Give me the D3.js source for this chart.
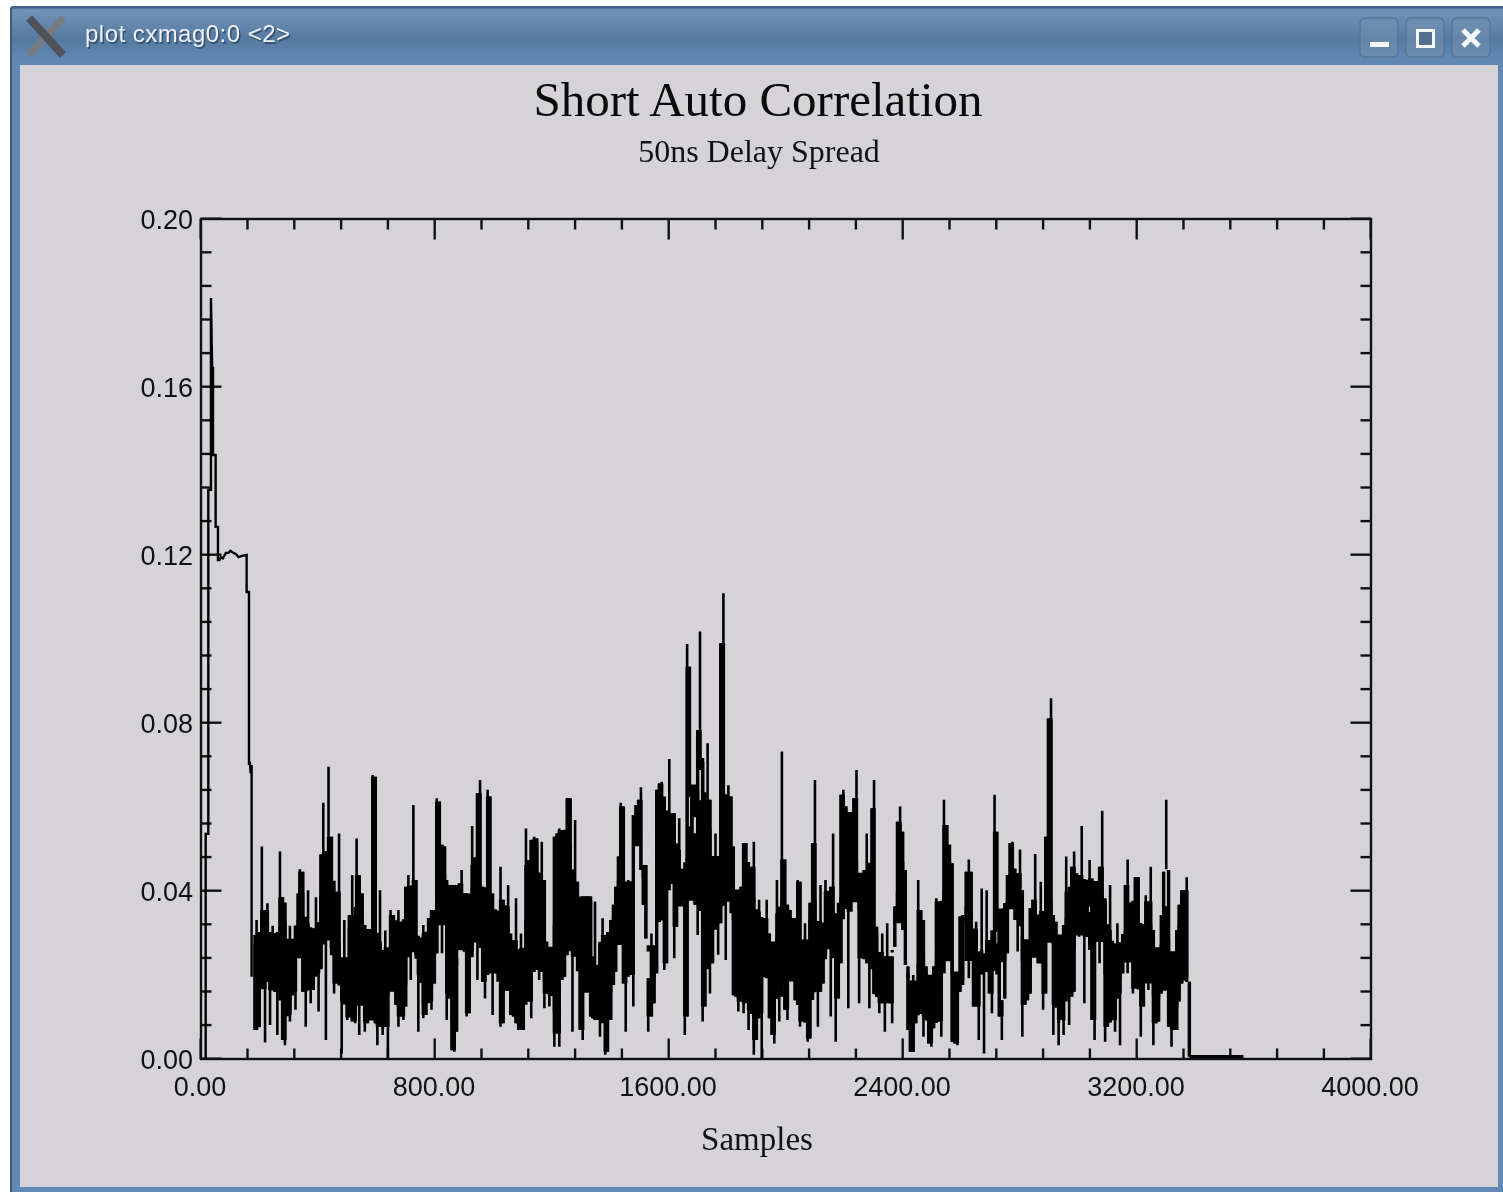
<!DOCTYPE html>
<html><head><meta charset="utf-8"><title>Short Auto Correlation</title>
<script src="https://cdn.jsdelivr.net/npm/d3@7"></script>
<style>html,body{margin:0;padding:0;background:#fff;overflow:hidden}svg{display:block}</style>
</head><body><div id="chart"></div>
<script>
const chartTitle = "Short Auto Correlation";
const chartSubtitle = "50ns Delay Spread";
const xTitle = "Samples";
const windowTitle = "plot cxmag0:0 <2>";
const xMajor = [0, 800, 1600, 2400, 3200, 4000];
const yMajor = [0, 0.04, 0.08, 0.12, 0.16, 0.20];
const xMinor = [160,320,480,640,960,1120,1280,1440,1760,1920,2080,2240,2560,2720,2880,3040,3360,3520,3680,3840];
const yMinor = [0.008,0.016,0.024,0.032,0.048,0.056,0.064,0.072,0.088,0.096,0.104,0.112,0.128,0.136,0.144,0.152,0.168,0.176,0.184,0.192];

// opening of the correlation: sample, magnitude along the trace
const headSample = [16,16,25,25,34,34,38,38,41,41,50,50,58,58,63,68,75,85,94,100,111,120,128,140,156,156,164,164,167,170,173,173];
const headValue = [0,.0536,.0536,.1355,.1355,.1812,.1648,.1438,.1648,.1438,.1438,.1267,.1267,.1188,.1188,.1195,.1192,.1205,.1205,.1210,.1205,.1202,.1195,.1198,.1200,.1112,.1112,.0700,.0708,.0680,.0700,.0196];

// noisy body: per drawn column, the sample and the highest / lowest magnitude
const colSample = [
185,190,199,208,219,227,236,245,253,261,
270,279,287,296,304,313,323,332,338,348,
358,366,375,384,393,402,410,418,427,436,
446,455,462,472,481,490,500,507,517,527,
532,541,551,560,569,578,587,596,603,612,
621,630,639,648,658,666,675,683,692,700,
709,717,726,735,743,752,760,769,778,788,
798,806,815,824,833,840,849,858,866,874,
883,891,900,908,917,927,935,945,954,963,
971,980,988,997,1006,1015,1024,1033,1042,1050,
1059,1068,1077,1086,1094,1102,1111,1120,1129,1139,
1148,1156,1165,1174,1182,1191,1199,1208,1217,1225,
1234,1243,1252,1262,1270,1279,1287,1296,1305,1314,1323,
1332,1339,1347,1355,1364,1373,1382,1390,1401,1410,
1418,1427,1435,1444,1452,1461,1470,1478,1487,1496,
1504,1512,1521,1529,1540,1549,1558,1567,1575,1584,
1592,1601,1609,1618,1626,1635,1644,1654,1662,1670,
1678,1689,1698,1706,1715,1723,1732,1740,1749,1759,
1768,1777,1786,1794,1803,1812,1820,1829,1837,1846,
1855,1863,1872,1882,1890,1899,1908,1917,1925,1934,
1943,1952,1960,1969,1977,1986,1996,2005,2014,2022,
2031,2040,2048,2057,2065,2074,2082,2091,2099,2109,
2118,2127,2135,2144,2153,2161,2170,2179,2188,2196,
2205,2213,2222,2232,2241,2250,2259,2267,2276,2285,
2294,2301,2310,2319,2329,2338,2346,2355,2363,2372,
2381,2390,2399,2408,2417,2425,2435,2444,2452,2461,
2470,2479,2488,2497,2505,2514,2523,2531,2540,2550,
2559,2568,2577,2586,2595,2604,2616,2625,2633,2641,
2650,2659,2669,2677,2686,2695,
2704,2713,2721,2729,2738,2748,2757,2766,2774,2783,
2792,2800,2808,2817,2826,2835,2844,2852,2862,2871,
2879,2888,2897,2906,2914,2923,2932,2940,2949,2958,
2968,2977,2985,2994,3002,3011,3020,3029,3038,3046,
3055,3064,3072,3081,3091,3099,3108,3116,3125,3133,
3142,3151,3160,3168,3177,3186,3194,3204,3213,3222,
3230,3239,3247,3256,3265,3274,3283,3291,3300,3308,
3318,3327,3336,3344,3353,3362,3370,3379];
const colHigh = [
.0295,.0331,.0244,.0506,.0355,.0371,.0279,.0317,.0299,.0240,
.0494,.0385,.0372,.0279,.0317,.0279,.0317,.0394,.0452,.0446,
.0323,.0402,.0311,.0311,.0385,.0267,.0487,.0610,.0410,.0696,
.0529,.0264,.0398,.0537,.0188,.0331,.0220,.0343,.0438,.0311,
.0525,.0438,.0394,.0319,.0307,.0307,.0676,.0672,.0275,.0402,
.0256,.0306,.0164,.0355,.0343,.0244,.0355,.0327,.0220,.0410,
.0438,.0323,.0605,.0426,.0248,.0287,.0319,.0299,.0335,.0355,
.0355,.0621,.0613,.0510,.0506,.0426,.0267,.0414,.0414,.0240,
.0418,.0450,.0394,.0394,.0264,.0555,.0462,.0633,.0664,.0355,
.0343,.0641,.0625,.0394,.0347,.0331,.0458,.0379,.0363,.0414,
.0256,.0283,.0383,.0256,.0299,.0232,.0549,.0462,.0521,.0529,
.0525,.0398,.0517,.0426,.0279,.0264,.0256,.0529,.0537,.0549,
.0545,.0498,.0621,.0621,.0394,.0569,.0422,.0359,.0387,.0387,.0387,
.0387,.0212,.0375,.0156,.0275,.0335,.0295,.0176,.0331,.0367,
.0410,.0482,.0610,.0601,.0204,.0426,.0422,.0581,.0605,.0617,
.0647,.0462,.0462,.0192,.0299,.0264,.0641,.0656,.0660,.0617,
.0514,.0714,.0585,.0585,.0498,.0573,.0442,.0375,.0988,.0934,
.0621,.0537,.0783,.1018,.0708,.0593,.0752,.0617,.0410,.0537,
.0470,.0990,.1109,.0402,.0652,.0625,.0506,.0383,.0402,.0410,
.0514,.0514,.0410,.0458,.0517,.0351,.0379,.0252,.0335,.0379,
.0299,.0275,.0216,.0426,.0347,.0732,.0475,.0367,.0355,.0331,
.0204,.0426,.0422,.0176,.0323,.0275,.0372,.0514,.0664,.0260,
.0414,.0307,.0426,.0398,.0410,.0537,.0287,.0331,.0629,.0641,
.0601,.0525,.0585,.0621,.0688,.0375,.0442,.0450,.0537,.0323,
.0597,.0664,.0315,.0244,.0299,.0244,.0323,.0244,.0244,.0363,
.0565,.0601,.0541,.0450,.0220,.0121,.0200,.0184,.0426,.0355,
.0331,.0220,.0196,.0172,.0220,.0383,.0375,.0260,.0617,.0557,
.0510,.0466,.0156,.0176,.0339,.0343,.0446,.0475,.0446,.0307,
.0327,.0244,.0406,.0244,.0402,.0283,
.0256,.0629,.0541,.0355,.0140,.0371,.0438,.0514,.0517,.0434,
.0442,.0499,.0402,.0256,.0267,.0359,.0379,.0488,.0335,.0422,
.0335,.0529,.0811,.0859,.0343,.0327,.0291,.0240,.0319,.0482,
.0398,.0458,.0494,.0375,.0438,.0555,.0331,.0426,.0474,.0430,
.0323,.0422,.0458,.0591,.0375,.0307,.0414,.0252,.0275,.0323,
.0252,.0291,.0414,.0475,.0359,.0363,.0433,.0433,.0307,.0228,
.0390,.0375,.0458,.0307,.0220,.0256,.0343,.0446,.0617,.0450,
.0244,.0172,.0307,.0367,.0402,.0402,.0433,.0184];
const colLow = [
.0069,.0069,.0077,.0188,.0039,.0188,.0081,.0164,.0160,.0057,
.0160,.0045,.0033,.0105,.0089,.0160,.0117,.0260,.0323,.0160,
.0077,.0196,.0133,.0164,.0204,.0113,.0216,.0287,.0045,.0287,
.0264,.0156,.0180,.0188,.0013,.0137,.0093,.0100,.0089,.0085,
.0140,.0057,.0137,.0065,.0085,.0093,.0307,.0085,.0033,.0077,
.0057,.0077,.0002,.0168,.0172,.0129,.0077,.0101,.0093,.0125,
.0256,.0188,.0323,.0248,.0065,.0200,.0097,.0105,.0137,.0117,
.0180,.0252,.0355,.0252,.0335,.0093,.0156,.0021,.0017,.0065,
.0260,.0307,.0256,.0101,.0109,.0256,.0283,.0188,.0307,.0184,
.0144,.0240,.0204,.0105,.0204,.0204,.0077,.0085,.0176,.0188,
.0105,.0101,.0085,.0069,.0069,.0069,.0172,.0137,.0097,.0260,
.0212,.0188,.0264,.0121,.0156,.0125,.0160,.0029,.0061,.0029,
.0188,.0196,.0260,.0307,.0065,.0244,.0244,.0069,.0045,.0172,.0220,
.0101,.0097,.0093,.0093,.0053,.0156,.0010,.0017,.0093,.0176,
.0208,.0287,.0327,.0180,.0065,.0204,.0200,.0125,.0521,.0549,
.0450,.0367,.0287,.0065,.0101,.0133,.0204,.0359,.0355,.0212,
.0228,.0442,.0442,.0240,.0315,.0375,.0375,.0057,.0101,.0625,
.0379,.0367,.0295,.0688,.0089,.0125,.0593,.0156,.0228,.0367,
.0248,.0323,.0402,.0236,.0375,.0422,.0152,.0148,.0113,.0137,
.0109,.0216,.0069,.0117,.0010,.0045,.0109,.0000,.0236,.0216,
.0097,.0057,.0037,.0156,.0089,.0347,.0117,.0093,.0196,.0200,
.0140,.0129,.0077,.0089,.0129,.0041,.0049,.0156,.0180,.0077,
.0160,.0180,.0252,.0264,.0101,.0287,.0041,.0144,.0228,.0529,
.0359,.0121,.0351,.0521,.0379,.0133,.0240,.0260,.0228,.0121,
.0315,.0156,.0148,.0109,.0133,.0065,.0200,.0133,.0085,.0267,
.0327,.0442,.0307,.0224,.0069,.0017,.0017,.0085,.0109,.0109,
.0053,.0101,.0037,.0029,.0073,.0204,.0089,.0053,.0204,.0240,
.0271,.0041,.0037,.0033,.0160,.0176,.0319,.0192,.0244,.0125,
.0125,.0045,.0220,.0013,.0220,.0156,
.0109,.0224,.0303,.0101,.0045,.0144,.0252,.0363,.0363,.0331,
.0256,.0406,.0053,.0129,.0140,.0156,.0244,.0267,.0228,.0228,
.0117,.0156,.0307,.0343,.0057,.0129,.0033,.0093,.0057,.0319,
.0081,.0148,.0160,.0295,.0291,.0331,.0133,.0291,.0363,.0093,
.0045,.0291,.0228,.0375,.0041,.0077,.0089,.0093,.0065,.0156,
.0033,.0204,.0236,.0204,.0236,.0156,.0168,.0244,.0053,.0125,
.0184,.0164,.0275,.0033,.0085,.0089,.0156,.0164,.0452,.0077,
.0029,.0069,.0069,.0137,.0180,.0212,.0184,.0006];

// flat tail after the burst
const tailSample = [3379, 3564];
const tailValue = [.0006, .0006];

const W = 1503, H = 1192;
const P = {l: 201, r: 1371, t: 219, b: 1059};
const x = d3.scaleLinear().domain([0, 4000]).range([P.l, P.r]);
const y = d3.scaleLinear().domain([0, 0.2]).range([P.b, P.t]);

const svg = d3.select("#chart").append("svg").attr("width", W).attr("height", H).attr("viewBox", `0 0 ${W} ${H}`);
const defs = svg.append("defs");
const soft = defs.append("filter").attr("id", "soft").attr("filterUnits", "userSpaceOnUse")
  .attr("x", 0).attr("y", 0).attr("width", W).attr("height", H).attr("color-interpolation-filters", "sRGB");
soft.append("feGaussianBlur").attr("stdDeviation", 0.7);
const bar = defs.append("linearGradient").attr("id", "bar").attr("x1", 0).attr("x2", 0).attr("y1", 0).attr("y2", 1);
[[0, "#3b5a7e"], [0.05, "#6f92b9"], [0.2, "#6a8cb2"], [0.55, "#567a9f"], [0.85, "#5f86b1"], [1, "#6189b5"]]
  .forEach(([o, c]) => bar.append("stop").attr("offset", o).attr("stop-color", c));
const btn = defs.append("linearGradient").attr("id", "btn").attr("x1", 0).attr("x2", 0).attr("y1", 0).attr("y2", 1);
[[0, "#6f8fb3"], [0.6, "#6585a9"], [1, "#6d8db1"]].forEach(([o, c]) => btn.append("stop").attr("offset", o).attr("stop-color", c));

const root = svg.append("g").attr("filter", "url(#soft)");

// window frame
root.append("rect").attr("x", 10).attr("y", 6).attr("width", W).attr("height", H).attr("rx", 3).attr("fill", "#3c5c80");
root.append("rect").attr("x", 12).attr("y", 8).attr("width", W).attr("height", H).attr("fill", "#6289b5");
root.append("rect").attr("x", 12).attr("y", 7).attr("width", W).attr("height", 58).attr("fill", "url(#bar)");
root.append("rect").attr("x", 20).attr("y", 65).attr("width", 1478).attr("height", 1122).attr("fill", "#d5d3d7");

// window logo
const logo = root.append("g").attr("fill", "none").attr("stroke-linecap", "butt");
logo.append("path").attr("d", "M63 18L29 55").attr("stroke", "#777b80").attr("stroke-width", 7);
logo.append("path").attr("d", "M29 18L63 55").attr("stroke", "#4f5258").attr("stroke-width", 8);

root.append("text").attr("x", 85).attr("y", 42).attr("fill", "#1f3550").attr("opacity", 0.6).attr("transform", "translate(1.5,1.5)")
  .style("font", "24px 'Liberation Sans'").attr("textLength", 205).text(windowTitle);
root.append("text").attr("x", 85).attr("y", 42).attr("fill", "#eef1f5")
  .style("font", "24px 'Liberation Sans'").attr("textLength", 205).text(windowTitle);

// window buttons
const buttonLeft = [1360, 1406, 1452];
root.selectAll("rect.b").data(buttonLeft).join("rect").attr("class", "b")
  .attr("x", d => d).attr("y", 18).attr("width", 38).attr("height", 39).attr("rx", 5)
  .attr("fill", "url(#btn)").attr("stroke", "#55779c").attr("stroke-width", 1.5);
root.append("rect").attr("x", 1370).attr("y", 42).attr("width", 19).attr("height", 5).attr("fill", "#f4f6f8");
root.append("rect").attr("x", 1417.5).attr("y", 30.5).attr("width", 16).attr("height", 16).attr("fill", "#52708f").attr("stroke", "#f4f6f8").attr("stroke-width", 3);
root.append("path").attr("d", "M1463 30L1479 46M1479 30L1463 46").attr("stroke", "#f7f8fa").attr("stroke-width", 5).attr("fill", "none");

// plot: ticks on all four sides, pointing inwards
const tickInk = "#111";
function styleAxis(g) {
  g.selectAll(".domain").remove();
  g.selectAll("line").attr("stroke", tickInk).attr("stroke-width", 2.4);
  g.selectAll("text").remove();
}
const plot = root.append("g");
[[d3.axisBottom, P.b], [d3.axisTop, P.t]].forEach(([ax, pos]) => {
  plot.append("g").attr("transform", `translate(-0.8,${pos})`).call(ax(x).tickValues(xMinor).tickSize(-10.5)).call(styleAxis);
  plot.append("g").attr("transform", `translate(-0.8,${pos})`).call(ax(x).tickValues(xMajor).tickSize(-20.5)).call(styleAxis);
});
[[d3.axisLeft, P.l], [d3.axisRight, P.r]].forEach(([ax, pos]) => {
  plot.append("g").attr("transform", `translate(${pos},-0.8)`).call(ax(y).tickValues(yMinor).tickSize(-10.5)).call(styleAxis);
  plot.append("g").attr("transform", `translate(${pos},-0.8)`).call(ax(y).tickValues(yMajor).tickSize(-20.5)).call(styleAxis);
});
plot.append("rect").attr("x", P.l).attr("y", P.t).attr("width", P.r - P.l).attr("height", P.b - P.t)
  .attr("fill", "none").attr("stroke", tickInk).attr("stroke-width", 2.4);

// trace
const line = d3.line().x(d => x(d[0])).y(d => y(d[1]));
const traceInk = "#000";
plot.append("path").attr("fill", "none").attr("stroke", traceInk).attr("stroke-width", 2.4)
  .attr("d", line(headSample.map((s, i) => [s, headValue[i]])));
// every column at spike width
plot.append("path").attr("fill", "none").attr("stroke", traceInk).attr("stroke-width", 2.6)
  .attr("d", colSample.map((s, i) => line([[s, colLow[i]], [s, colHigh[i]]])).join(""));
// the part a column shares with its neighbours merges into solid ink in the original
const n = colSample.length;
plot.append("path").attr("fill", "none").attr("stroke", traceInk).attr("stroke-width", 3.4)
  .attr("d", colSample.map((s, i) => {
    const p = Math.max(i - 1, 0), q = Math.min(i + 1, n - 1);
    const lo = Math.max(colLow[i], Math.min(colLow[p], colLow[q]));
    const hi = Math.min(colHigh[i], Math.max(colHigh[p], colHigh[q]));
    return hi > lo ? line([[s, lo], [s, hi]]) : "";
  }).join(""));
// solid core of the band: local quartiles of the column extremes over a five-column window
plot.append("path").attr("fill", "none").attr("stroke", traceInk).attr("stroke-width", 3.2)
  .attr("d", colSample.map((s, i) => {
    if (i >= n - 1) return "";
    const a = Math.max(i - 2, 0), b = Math.min(i + 3, n - 1);
    const hi = d3.quantile(colHigh.slice(a, b).sort(d3.ascending), 0.3);
    const lo = d3.quantile(colLow.slice(a, b).sort(d3.ascending), 0.7);
    return hi > lo ? line([[s, lo], [s, hi]]) : "";
  }).join(""));
plot.append("path").attr("fill", "none").attr("stroke", traceInk).attr("stroke-width", 3)
  .attr("d", line(tailSample.map((s, i) => [s, tailValue[i]])));

// tick labels
const labelFont = "27px 'Liberation Sans'";
root.selectAll("text.xl").data(xMajor).join("text").attr("class", "xl")
  .attr("x", d => x(d) - 1).attr("y", 1096).attr("text-anchor", "middle").attr("fill", "#111")
  .style("font", labelFont).text(d3.format(".2f"));
root.selectAll("text.yl").data(yMajor).join("text").attr("class", "yl")
  .attr("x", 193).attr("y", d => y(d) + 10).attr("text-anchor", "end").attr("fill", "#111")
  .style("font", labelFont).text(d3.format(".2f"));

// titles
const serif = "'Liberation Serif'";
root.append("text").attr("x", 758).attr("y", 116).attr("text-anchor", "middle").attr("fill", "#0a0a0a")
  .style("font", `49px ${serif}`).text(chartTitle);
root.append("text").attr("x", 759).attr("y", 162).attr("text-anchor", "middle").attr("fill", "#111")
  .style("font", `32px ${serif}`).text(chartSubtitle);
root.append("text").attr("x", 757).attr("y", 1150).attr("text-anchor", "middle").attr("fill", "#111")
  .style("font", `33px ${serif}`).text(xTitle);
</script></body></html>
